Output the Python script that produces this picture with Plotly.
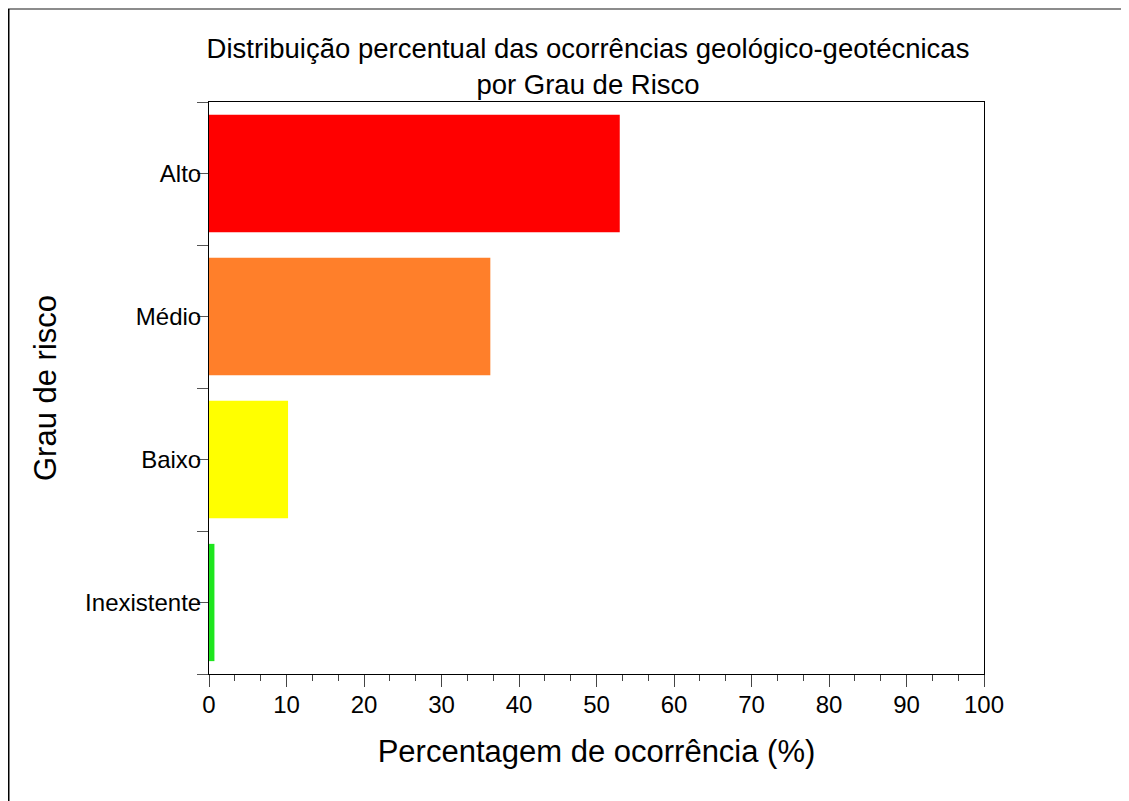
import plotly.graph_objects as go

# dados
categorias = ["Inexistente", "Baixo", "Médio", "Alto"]
percentagens = [0.7, 10.2, 36.3, 53.0]
cores = ["#1ee61e", "#ffff00", "#ff7f2a", "#ff0000"]
x_ticks = [0, 10, 20, 30, 40, 50, 60, 70, 80, 90, 100]

# a página tem 8px de margem no body
OFF = 8
W, H = 1129 - 2 * OFF, 801 - OFF
L, R, T, B = 209 - OFF, 145 - OFF, 102 - OFF, 127
pw, ph = W - L - R, H - T - B

def px_x(px):
    return (px - OFF - L) / pw

def px_y(py):
    return (H - B - (py - OFF)) / ph

pos = list(range(len(categorias)))
y_tickvals, y_ticktext = [], []
for i, c in enumerate(categorias):
    y_tickvals += [i - 0.5, i]
    y_ticktext += ["", c]
y_tickvals.append(len(categorias) - 0.5)
y_ticktext.append("")

fig = go.Figure()
fig.add_trace(go.Bar(
    x=percentagens, y=pos, orientation="h", width=0.82,
    marker=dict(color=cores, line=dict(width=0)),
    showlegend=False,
))

fig.update_layout(
    width=W, height=H,
    margin=dict(l=L, r=R, t=T, b=B),
    paper_bgcolor="white", plot_bgcolor="white",
    font=dict(family="Liberation Sans, Arial", color="black"),
    title=dict(
        text="Distribuição percentual das ocorrências geológico-geotécnicas<br>por Grau de Risco",
        x=px_x(588), xref="paper", xanchor="center",
        y=1 - 50 / H, yanchor="top",
        font=dict(size=27.5, color="black"),
    ),
    xaxis=dict(
        range=[0, 100], tickvals=x_ticks, ticks="outside", ticklen=12,
        tickcolor="#444", tickfont=dict(size=24), ticklabelstandoff=-3,
        minor=dict(dtick=10 / 3, ticks="outside", ticklen=6, tickcolor="#444", showgrid=False),
        showline=True, linecolor="black", linewidth=1, mirror=True,
        showgrid=False, zeroline=False,
        title=dict(text="Percentagem de ocorrência (%)", font=dict(size=31), standoff=23),
    ),
    yaxis=dict(
        range=[-0.5, len(categorias) - 0.5], tickvals=y_tickvals, ticktext=y_ticktext,
        ticks="outside", ticklen=11, tickcolor="#555", tickfont=dict(size=24),
        ticklabelstandoff=-9,
        showline=True, linecolor="black", linewidth=1, mirror=True,
        showgrid=False, zeroline=False,
        title=dict(text="Grau de risco", font=dict(size=31), standoff=19),
    ),
    shapes=[
        dict(type="line", xref="paper", yref="paper", x0=px_x(OFF), x1=px_x(1140),
             y0=px_y(9), y1=px_y(9), line=dict(color="#666", width=1.5)),
        dict(type="line", xref="paper", yref="paper", x0=px_x(OFF + 0.75), x1=px_x(OFF + 0.75),
             y0=px_y(9), y1=px_y(810), line=dict(color="black", width=1.5)),
    ],
)

fig.write_html("out.html")
